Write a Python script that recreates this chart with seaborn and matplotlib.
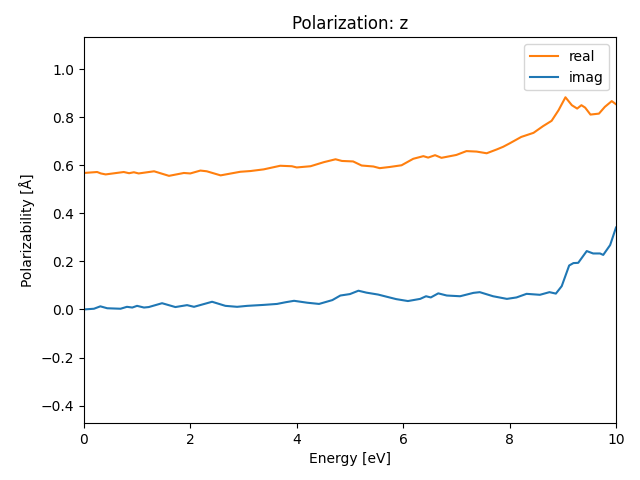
import matplotlib
matplotlib.use("Agg")
import matplotlib.pyplot as plt
import seaborn as sns
import pandas as pd

energy_real = [0.0, 0.25, 0.32, 0.41, 0.75, 0.85, 0.94, 1.03, 1.32, 1.60, 1.88, 2.0, 2.19, 2.31,
               2.57, 2.94, 3.13, 3.38, 3.69, 3.91, 4.0, 4.26, 4.51, 4.73, 4.85, 5.06,
               5.22, 5.44, 5.56, 5.75, 5.97, 6.19, 6.38, 6.47, 6.6, 6.72, 7.0, 7.19,
               7.38, 7.57, 7.76, 7.88, 8.0, 8.22, 8.45, 8.63, 8.79, 8.92, 9.05, 9.17,
               9.27, 9.35, 9.42, 9.52, 9.68, 9.79, 9.92, 10.0]
real = [0.568, 0.572, 0.566, 0.562, 0.572, 0.567, 0.571, 0.566, 0.575, 0.556, 0.568, 0.566, 0.578, 0.575,
        0.558, 0.573, 0.576, 0.583, 0.598, 0.596, 0.591, 0.596, 0.613, 0.625, 0.618, 0.616,
        0.599, 0.595, 0.588, 0.593, 0.600, 0.627, 0.638, 0.632, 0.642, 0.631, 0.643, 0.659,
        0.657, 0.650, 0.666, 0.677, 0.691, 0.718, 0.735, 0.763, 0.785, 0.829, 0.883, 0.850,
        0.836, 0.850, 0.840, 0.811, 0.815, 0.843, 0.867, 0.854]

energy_imag = [0.0, 0.19, 0.31, 0.44, 0.69, 0.81, 0.91, 1.0, 1.13, 1.22, 1.47, 1.72, 1.94,
               2.07, 2.41, 2.66, 2.88, 3.07, 3.38, 3.63, 3.79, 3.95, 4.2, 4.42, 4.67,
               4.82, 5.0, 5.16, 5.31, 5.53, 5.69, 5.87, 6.09, 6.32, 6.43, 6.52, 6.66,
               6.82, 7.07, 7.32, 7.44, 7.69, 7.95, 8.13, 8.32, 8.57, 8.75, 8.87, 8.98,
               9.12, 9.2, 9.29, 9.45, 9.57, 9.7, 9.76, 9.89, 10.0]
imag = [0.0, 0.003, 0.013, 0.005, 0.003, 0.011, 0.008, 0.015, 0.008, 0.010, 0.026, 0.010, 0.018,
        0.011, 0.032, 0.015, 0.011, 0.015, 0.019, 0.023, 0.030, 0.036, 0.028, 0.023, 0.039,
        0.058, 0.064, 0.078, 0.070, 0.062, 0.053, 0.043, 0.035, 0.044, 0.055, 0.050, 0.067,
        0.058, 0.055, 0.069, 0.072, 0.055, 0.044, 0.050, 0.065, 0.061, 0.072, 0.066, 0.097,
        0.183, 0.193, 0.194, 0.243, 0.233, 0.233, 0.227, 0.268, 0.341]

df = pd.concat([
    pd.DataFrame({"Energy": energy_real, "value": real, "part": "real"}),
    pd.DataFrame({"Energy": energy_imag, "value": imag, "part": "imag"}),
])

fig, ax = plt.subplots(figsize=(6.4, 4.8), dpi=100)
sns.lineplot(data=df, x="Energy", y="value", hue="part", hue_order=["real", "imag"],
             palette={"real": "#ff7f0e", "imag": "#1f77b4"}, ax=ax, linewidth=1.5,
             sort=False, estimator=None)
ax.set_xlim(0, 10)
ax.set_ylim(-0.472, 1.132)
ax.set_title("Polarization: z")
ax.set_xlabel("Energy [eV]")
ax.set_ylabel("Polarizability [Å]")
ax.legend(loc="upper right")
fig.subplots_adjust(left=0.131, right=0.9625, top=0.922, bottom=0.119)
fig.savefig("out.png", dpi=100)
